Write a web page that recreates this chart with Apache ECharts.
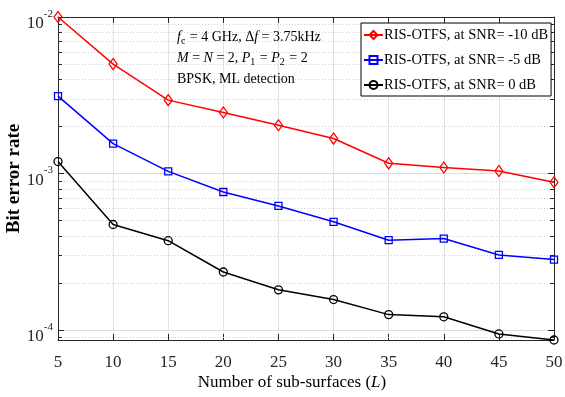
<!DOCTYPE html>
<html>
<head>
<meta charset="utf-8">
<script src="https://cdn.jsdelivr.net/npm/echarts@6/dist/echarts.min.js"></script>
<style>
  html, body { margin: 0; padding: 0; background: #fff; }
  #chart { width: 565px; height: 397px; }
</style>
</head>
<body>
<div id="chart"></div>
<script>
// number of sub-surfaces L
const subSurfaces = [5, 10, 15, 20, 25, 30, 35, 40, 45, 50]
// BER
const berSnrM10 = [1.0e-2, 5.0e-3, 2.94e-3, 2.45e-3, 2.03e-3, 1.67e-3, 1.16e-3, 1.09e-3, 1.035e-3, 8.77e-4]
const berSnrM5 = [3.12e-3, 1.55e-3, 1.03e-3, 7.6e-4, 6.19e-4, 4.9e-4, 3.74e-4, 3.83e-4, 3.01e-4, 2.81e-4]
const berSnr0 = [1.19e-3, 4.71e-4, 3.71e-4, 2.34e-4, 1.80e-4, 1.56e-4, 1.25e-4, 1.21e-4, 9.4e-5, 8.6e-5]
const seriesNames = ["RIS-OTFS, at SNR= -10 dB", "RIS-OTFS, at SNR= -5 dB", "RIS-OTFS, at SNR= 0 dB"]
// minor log grid (2..9 x 10^k)
const minorTicks = [9e-5, 2e-4, 3e-4, 4e-4, 5e-4, 6e-4, 7e-4, 8e-4, 9e-4, 2e-3, 3e-3, 4e-3, 5e-3, 6e-3, 7e-3, 8e-3, 9e-3]

const yMin = 8.6e-5
const yMax = 1e-2
const FONT = "Liberation Serif"

const chart = echarts.init(document.getElementById("chart"))

const pairs = (ys) => subSurfaces.map((x, i) => [x, ys[i]])

// 10^k tick labels, hide the ones at non-decade boundaries
const decadeLabel = (v) => {
  const e = Math.log10(v)
  const r = Math.round(e)
  if (Math.abs(e - r) > 1e-6) return ""
  return "{b|10}{s|" + r + "}"
}

const lineSeries = (name, ys, color, symbol, size) => ({
  name,
  type: "line",
  data: pairs(ys),
  symbol,
  symbolSize: size,
  showSymbol: true,
  lineStyle: { color, width: 1.5 },
  itemStyle: { color: "rgba(255,255,255,0)", borderColor: color, borderWidth: 1.3 },
  emphasis: { disabled: true },
  z: 5
})

const option = {
  animation: false,
  backgroundColor: "#fff",
  textStyle: { fontFamily: FONT },
  grid: { left: 58, right: 11, top: 17, bottom: 57, containLabel: false, outerBoundsMode: "none" },
  legend: {
    orient: "vertical",
    left: 361,
    top: 23,
    padding: [4, 3, 3, 2],
    itemWidth: 19,
    itemHeight: 10,
    itemGap: 9,
    backgroundColor: "#fff",
    borderColor: "#000",
    borderWidth: 1,
    borderRadius: 0,
    textStyle: { fontFamily: FONT, fontSize: 14.5, lineHeight: 16, color: "#000", padding: [0, 0, 0, -4] },
    data: seriesNames
  },
  xAxis: [
    {
      type: "value",
      min: 5,
      max: 50,
      interval: 5,
      name: "Number of sub-surfaces ({i|L})",
      nameLocation: "middle",
      nameGap: 34,
      nameMoveOverlap: false,
      nameTextStyle: {
        fontFamily: FONT, fontSize: 17, color: "#000", padding: [0, 28, 0, 0],
        rich: { i: { fontFamily: FONT, fontSize: 17, fontStyle: "italic", color: "#000" } }
      },
      axisLine: { lineStyle: { color: "#262626", width: 1 } },
      axisTick: { inside: true, length: 6, lineStyle: { color: "#262626" } },
      axisLabel: { fontFamily: FONT, fontSize: 17, color: "#262626", margin: 14 },
      splitLine: { show: true, lineStyle: { color: "#e3e3e3", width: 1 } }
    },
    {
      type: "value",
      position: "top",
      min: 5,
      max: 50,
      interval: 5,
      axisLine: { lineStyle: { color: "#262626", width: 1 } },
      axisTick: { inside: true, length: 6, lineStyle: { color: "#262626" } },
      axisLabel: { show: false },
      splitLine: { show: false }
    }
  ],
  yAxis: [
    {
      type: "log",
      logBase: 10,
      min: yMin,
      max: yMax,
      name: "Bit error rate",
      nameLocation: "middle",
      nameGap: 34,
      nameMoveOverlap: false,
      nameTextStyle: { fontFamily: FONT, fontSize: 19, fontWeight: "bold", color: "#000" },
      axisLine: { lineStyle: { color: "#262626", width: 1 } },
      axisTick: { inside: true, length: 6, lineStyle: { color: "#262626" } },
      axisLabel: {
        formatter: decadeLabel,
        margin: 5,
        fontFamily: FONT,
        fontSize: 17,
        rich: {
          b: { fontFamily: FONT, fontSize: 17, color: "#262626", padding: [14, 0, 0, 0] },
          s: { fontFamily: FONT, fontSize: 11, color: "#262626", verticalAlign: "top", padding: [7, 0, 0, 0] }
        }
      },
      splitLine: { show: true, lineStyle: { color: "#dcdcdc", width: 1 } }
    },
    {
      type: "log",
      logBase: 10,
      position: "right",
      min: yMin,
      max: yMax,
      axisLine: { lineStyle: { color: "#262626", width: 1 } },
      axisTick: { inside: true, length: 6, lineStyle: { color: "#262626" } },
      axisLabel: { show: false },
      splitLine: { show: false }
    }
  ],
  graphic: [
    {
      type: "text",
      left: 177,
      top: 27,
      z: 10,
      style: {
        text: "{i|f}{sb|c} = 4 GHz, Δ{i|f} = 3.75kHz\n{i|M} = {i|N} = 2, {i|P}{sb|1} = {i|P}{sb|2} = 2\nBPSK, ML detection",
        font: "14px " + FONT,
        fill: "#000",
        lineHeight: 21,
        rich: {
          i: { fontFamily: FONT, fontSize: 14, fontStyle: "italic", fill: "#000" },
          sb: { fontFamily: FONT, fontSize: 10, fill: "#000", padding: [7, 1, 0, 0] }
        }
      }
    }
  ],
  series: [
    {
      // minor log grid lines + minor ticks on left/right
      type: "custom",
      silent: true,
      coordinateSystem: "cartesian2d",
      data: minorTicks.map((v) => [5, v]),
      z: 1,
      renderItem: (params, api) => {
        const v = api.value(1)
        const a = api.coord([5, v])
        const b = api.coord([50, v])
        const y = Math.round(a[1]) + 0.5
        return {
          type: "group",
          children: [
            { type: "line", shape: { x1: a[0], y1: y, x2: b[0], y2: y }, style: { stroke: "#cfcfcf", lineWidth: 1, lineDash: [1, 2] } },
            { type: "line", shape: { x1: a[0], y1: y, x2: a[0] + 4, y2: y }, style: { stroke: "#262626", lineWidth: 1 } },
            { type: "line", shape: { x1: b[0], y1: y, x2: b[0] - 4, y2: y }, style: { stroke: "#262626", lineWidth: 1 } }
          ]
        }
      }
    },
    lineSeries(seriesNames[0], berSnrM10, "#ff0000", "diamond", [8, 11]),
    lineSeries(seriesNames[1], berSnrM5, "#0000ff", "rect", 7),
    lineSeries(seriesNames[2], berSnr0, "#000000", "circle", 8)
  ]
}

chart.setOption(option)
</script>
</body>
</html>
